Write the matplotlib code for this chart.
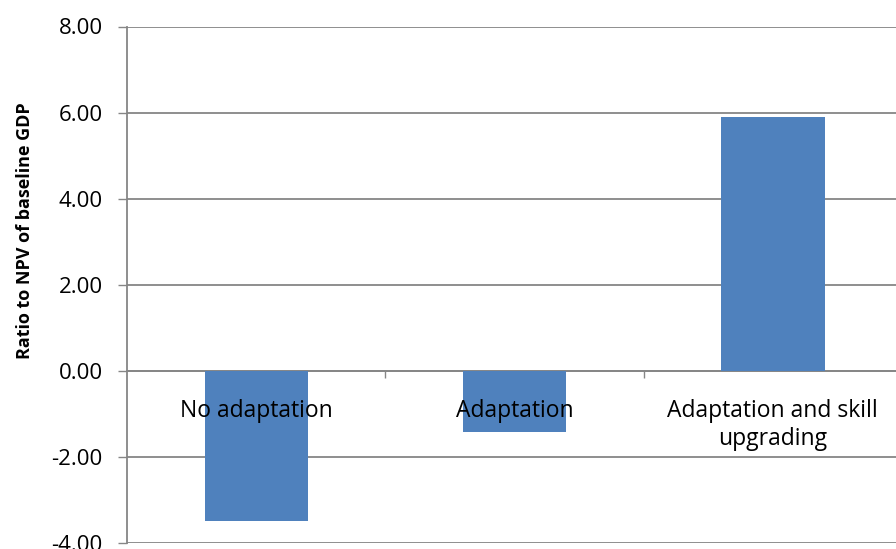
import numpy as np
import matplotlib
matplotlib.use("Agg")
import matplotlib.pyplot as plt
from matplotlib.ticker import FixedLocator, FuncFormatter

plt.rcParams["font.family"] = ["Open Sans", "DejaVu Sans"]
plt.rcParams["axes.unicode_minus"] = False

categories = ["No adaptation", "Adaptation", "Adaptation and skill\nupgrading"]
values = [-3.49, -1.42, 5.91]
y_ticks = [-4, -2, 0, 2, 4, 6, 8]

BAR_COLOR = "#4F81BD"
GRID_COLOR = "#868686"

fig = plt.figure(figsize=(8.96, 5.49), dpi=100)
ax = fig.add_axes([127 / 896, 5.7 / 549, 775 / 896, 516.8 / 549])

x = np.arange(len(categories))
ax.bar(x, values, width=0.4, color=BAR_COLOR, zorder=3)

ax.set_xlim(-0.5, 2.5)
ax.set_ylim(-4, 8)

ax.yaxis.set_major_locator(FixedLocator(y_ticks))
ax.yaxis.set_major_formatter(FuncFormatter(lambda v, p: f"{v:.2f}"))
ax.grid(axis="y", color=GRID_COLOR, linewidth=1.3, zorder=0)
ax.tick_params(axis="y", length=6.5, width=1.0, color=GRID_COLOR, labelsize=16, pad=11)

# category axis crosses at zero, with ticks between categories
ax.spines["bottom"].set_position(("data", 0))
ax.spines["bottom"].set_color(GRID_COLOR)
ax.spines["bottom"].set_linewidth(1.3)
ax.spines["left"].set_color(GRID_COLOR)
ax.spines["left"].set_linewidth(1.3)
ax.spines["top"].set_visible(False)
ax.spines["right"].set_visible(False)

ax.set_xticks(x)
ax.set_xticklabels(categories, fontsize=16.5, linespacing=1.25)
ax.set_xticks([0.5, 1.5], minor=True)
ax.tick_params(axis="x", which="major", length=0, pad=20)
ax.tick_params(axis="x", which="minor", length=5, width=1.0, color=GRID_COLOR)
ax.xaxis.set_zorder(5)

ax.set_ylabel("Ratio to NPV of baseline GDP", fontsize=13, fontweight="bold")
ax.yaxis.set_label_coords(-0.12, 0.604)

fig.savefig("out.png", dpi=100)
